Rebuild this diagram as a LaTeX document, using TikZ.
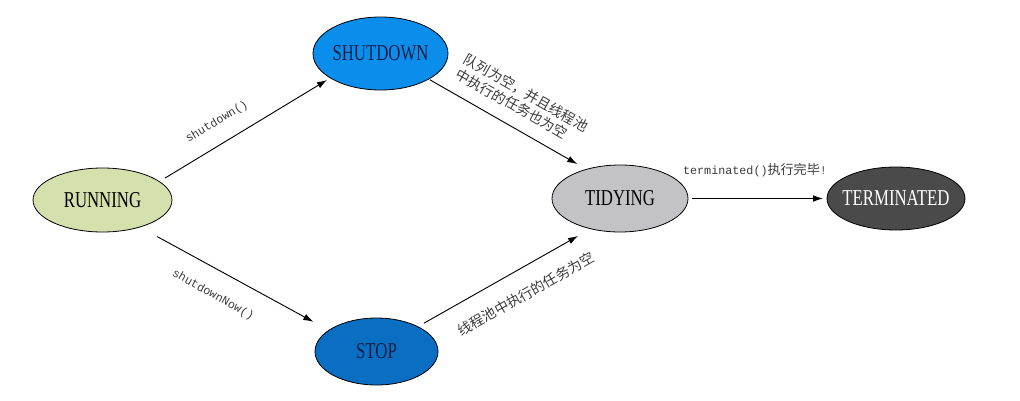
\documentclass[tikz,border=0pt]{standalone}
\usepackage{fontspec}
\setmainfont{Liberation Serif}
\newfontfamily\monofont{Liberation Mono}
\newfontfamily\cjk{Noto Sans CJK SC}
\usetikzlibrary{shapes.geometric,arrows.meta}
\definecolor{runfill}{HTML}{D4E1AC}
\definecolor{sdfill}{HTML}{0B8DEB}
\definecolor{stopfill}{HTML}{0A6FC2}
\definecolor{tidyfill}{HTML}{C3C3C6}
\definecolor{termfill}{HTML}{4A4A4A}
\definecolor{navytext}{HTML}{14204A}
\definecolor{labelgray}{HTML}{3A3A3A}
\newcommand\statetext[1]{\makebox[0pt]{\scalebox{0.74}[1]{\fontsize{17}{20}\selectfont #1}}}
\begin{document}
\begin{tikzpicture}[x=0.75pt,y=-0.75pt,
  state/.style={ellipse,draw=black,line width=0.6pt,inner sep=0pt,outer sep=0pt},
  arr/.style={draw=black,line width=0.7pt,-{Latex[length=7.5pt,width=5pt]}},
  lbl/.style={font=\monofont\fontsize{8.8}{10}\selectfont,text=labelgray,inner sep=0pt},
  cjklbl/.style={font=\cjk\fontsize{10.5}{12.5}\selectfont,text=labelgray,inner sep=0pt}]
\useasboundingbox (0,0) rectangle (1020,400);
\node[state,fill=runfill,minimum width=104.25pt,minimum height=48pt] (run) at (102.5,200) {\statetext{RUNNING}};
\node[state,fill=sdfill,text=navytext,minimum width=101.25pt,minimum height=54.75pt] (sd) at (380.5,53.5) {\statetext{SHUTDOWN}};
\node[state,fill=stopfill,text=navytext,minimum width=92.25pt,minimum height=50.25pt] (stop) at (376.5,351.5) {\statetext{STOP}};
\node[state,fill=tidyfill,minimum width=102pt,minimum height=50.25pt] (tidy) at (620,198.5) {\statetext{TIDYING}};
\node[state,fill=termfill,text=white,minimum width=103.5pt,minimum height=47.25pt] (term) at (896,198.5) {\statetext{TERMINATED}};
\draw[arr,shorten <=5pt,shorten >=3pt] (run.18) -- (sd.206);
\draw[arr,shorten <=15pt,shorten >=13.3pt] (run.-36.6) -- (stop.156.4);
\draw[arr,shorten <=1pt,shorten >=8pt] (sd.-28.2) -- (tidy.139.1);
\draw[arr,shorten <=5.3pt,shorten >=11pt] (stop.31.2) -- (tidy.226);
\draw[arr,shorten <=3pt,shorten >=3pt] (tidy.east) -- (term.west);
\node[lbl,rotate=31] (l1) at (217,122) {shutdown()};
\node[lbl,rotate=-29] (l2) at (213,295) {shutdownNow()};
\node[cjklbl,rotate=-29.7,align=left] (l3) at (522,100) {队列为空，并且线程池\\中执行的任务也为空};
\node[cjklbl,rotate=29.5] (l4) at (526,294) {线程池中执行的任务为空};
\node[lbl] (l5) at (755,170) {terminated(){\cjk\fontsize{9.8}{10}\selectfont 执行完毕}!};
\end{tikzpicture}
\end{document}
